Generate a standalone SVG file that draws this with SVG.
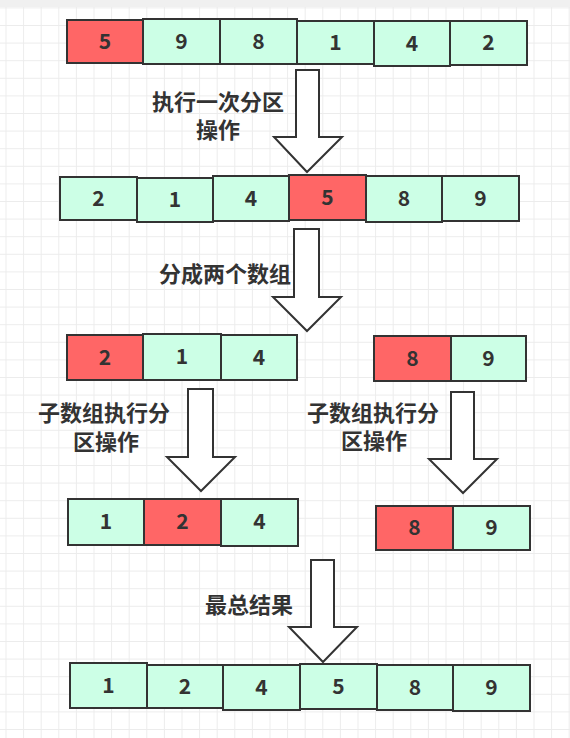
<svg xmlns="http://www.w3.org/2000/svg" width="570" height="738" viewBox="0 0 570 738">
<defs>
<pattern id="grid" patternUnits="userSpaceOnUse" x="5.5" y="7.4" width="17.6" height="17.6">
<path d="M0 0.5 H17.6 M0.5 0 V17.6" fill="none" stroke="#ececec" stroke-width="1"/>
</pattern>
<style>
.g{fill:#ccffe6;stroke:#333;stroke-width:2}
.r{fill:#ff6666;stroke:#333;stroke-width:2}
.n{font-family:"Noto Sans CJK SC","Noto Sans",sans-serif;font-weight:bold;font-size:21px;fill:#333;text-anchor:middle}
.t{font-family:"Noto Sans CJK SC",sans-serif;font-weight:bold;font-size:22px;fill:#333;text-anchor:middle}
.a{fill:#fff;stroke:#333;stroke-width:2;stroke-linejoin:miter}
</style>
</defs>
<rect width="570" height="738" fill="#fff"/>
<rect width="570" height="738" fill="url(#grid)"/>
<rect width="570" height="7" fill="#f0f0f0"/>

<g id="connectors">
<polygon class="a" points="296,70 319,70 319,137 342,137 307,172 274,137 296,137"/>
<polygon class="a" points="294,229 319,229 319,297 341,297 307,331 273,297 294,297"/>
<polygon class="a" points="188,389 213,389 213,457 235,457 201,491 167,457 188,457"/>
<polygon class="a" points="451,392 474,392 474,459 497,459 463,493 429,459 451,459"/>
<polygon class="a" points="311,560 334,560 334,627 357,627 323,662 289,627 311,627"/>
</g>

<g id="labels">
<text class="t" x="218" y="110">执行一次分区</text>
<text class="t" x="218" y="138">操作</text>
<text class="t" x="225" y="282">分成两个数组</text>
<text class="t" x="104" y="421">子数组执行分</text>
<text class="t" x="106" y="450">区操作</text>
<text class="t" x="373" y="421">子数组执行分</text>
<text class="t" x="374" y="449">区操作</text>
<text class="t" x="249" y="613">最总结果</text>
</g>

<g id="r1c1"><rect class="r" x="67" y="20" width="76" height="43"/><text class="n" x="105" y="49">5</text></g>
<g id="r1c2"><rect class="g" x="143" y="19" width="77" height="45"/><text class="n" x="181.5" y="49">9</text></g>
<g id="r1c3"><rect class="g" x="220" y="19" width="77" height="45"/><text class="n" x="258.5" y="49">8</text></g>
<g id="r1c4"><rect class="g" x="297" y="21" width="77" height="43"/><text class="n" x="335.5" y="50">1</text></g>
<g id="r1c5"><rect class="g" x="374" y="21" width="76" height="45"/><text class="n" x="412" y="51">4</text></g>
<g id="r1c6"><rect class="g" x="450" y="21" width="77" height="44"/><text class="n" x="488.5" y="50">2</text></g>

<g id="r2c1"><rect class="g" x="60" y="177" width="77" height="43"/><text class="n" x="98.5" y="206">2</text></g>
<g id="r2c2"><rect class="g" x="137" y="178" width="76" height="44"/><text class="n" x="175" y="207">1</text></g>
<g id="r2c3"><rect class="g" x="213" y="176" width="76" height="45"/><text class="n" x="251" y="206">4</text></g>
<g id="r2c4"><rect class="r" x="289" y="175" width="77" height="45"/><text class="n" x="327.5" y="205">5</text></g>
<g id="r2c5"><rect class="g" x="366" y="176" width="76" height="46"/><text class="n" x="404" y="206">8</text></g>
<g id="r2c6"><rect class="g" x="442" y="176" width="77" height="45"/><text class="n" x="480.5" y="206">9</text></g>

<g id="r3c1"><rect class="r" x="67" y="335" width="76" height="45"/><text class="n" x="105" y="365">2</text></g>
<g id="r3c2"><rect class="g" x="143" y="334" width="78" height="46"/><text class="n" x="182" y="364">1</text></g>
<g id="r3c3"><rect class="g" x="221" y="335" width="76" height="45"/><text class="n" x="259" y="365">4</text></g>
<g id="r3c4"><rect class="r" x="374" y="336" width="77" height="45"/><text class="n" x="412.5" y="366">8</text></g>
<g id="r3c5"><rect class="g" x="451" y="336" width="75" height="45"/><text class="n" x="488.5" y="366">9</text></g>

<g id="r4c1"><rect class="g" x="68" y="499" width="76" height="46"/><text class="n" x="106" y="529">1</text></g>
<g id="r4c2"><rect class="r" x="144" y="499" width="77" height="46"/><text class="n" x="182.5" y="529">2</text></g>
<g id="r4c3"><rect class="g" x="221" y="499" width="77" height="47"/><text class="n" x="259.5" y="529">4</text></g>
<g id="r4c4"><rect class="r" x="376" y="506" width="77" height="44"/><text class="n" x="414.5" y="535">8</text></g>
<g id="r4c5"><rect class="g" x="453" y="506" width="77" height="44"/><text class="n" x="491.5" y="535">9</text></g>

<g id="r5c1"><rect class="g" x="70" y="663" width="77" height="45"/><text class="n" x="108.5" y="693">1</text></g>
<g id="r5c2"><rect class="g" x="147" y="665" width="76" height="43"/><text class="n" x="185" y="694">2</text></g>
<g id="r5c3"><rect class="g" x="223" y="665" width="77" height="45"/><text class="n" x="261.5" y="695">4</text></g>
<g id="r5c4"><rect class="g" x="300" y="664" width="77" height="45"/><text class="n" x="338.5" y="694">5</text></g>
<g id="r5c5"><rect class="g" x="377" y="665" width="76" height="45"/><text class="n" x="415" y="695">8</text></g>
<g id="r5c6"><rect class="g" x="453" y="665" width="77" height="46"/><text class="n" x="491.5" y="695">9</text></g>
</svg>
